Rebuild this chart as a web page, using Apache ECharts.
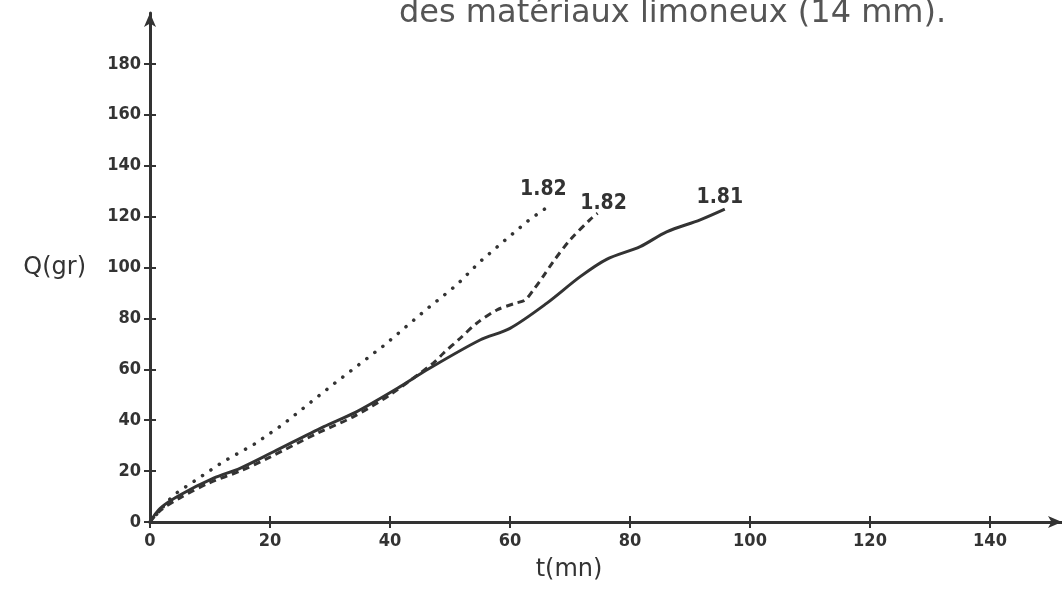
<!DOCTYPE html>
<html>
<head>
<meta charset="utf-8">
<script src="https://cdn.jsdelivr.net/npm/echarts@6/dist/echarts.min.js"></script>
<style>
html,body{margin:0;padding:0;background:#fff;}
#main{width:1062px;height:599px;}
</style>
</head>
<body>
<div id="main"></div>
<script>
// t (mn), Q (gr)
var solid181 = [[0,0],[1.7,5.4],[5,10.6],[10.6,17.2],[15,21.1],[20.6,27.6],[28.9,37.4],[34.4,43.3],[41.7,53.2],[46.1,59.7],[55,71.5],[60,76.1],[66.1,85.9],[71.7,96.4],[76.1,103.2],[81.7,108.2],[86.1,114],[91.7,118.7],[95.8,122.9]];
var dashed182 = [[0,0],[1.7,4.5],[5,9.5],[10,15.5],[15,20],[20,25.5],[28,35],[34,41.5],[40,50],[47.2,62.4],[48.9,66.3],[51.7,72.2],[54.4,78],[57.8,83.3],[60.8,85.9],[62.5,87.2],[63.9,91.2],[65.5,96.4],[67.2,102.3],[70,110.8],[73.3,118.7],[74.6,121.3]];
var dotted182 = [[0,0],[3.9,10.6],[7.2,15.8],[12.2,23.7],[17.2,30.3],[22.2,38.4],[26.7,46.9],[31.1,55.1],[38.9,69.2],[41.9,75.2],[46.1,83.6],[51.1,93.1],[55,102.3],[59.2,110.8],[63.3,118.9],[66.4,124]];
var xTicks = [0,20,40,60,80,100,120,140];
var yTicks = [0,20,40,60,80,100,120,140,160,180];
var curveLabels = ['1.81','1.82','1.82'];

var INK = '#333';
var NARROW = '"Liberation Sans Narrow","DejaVu Sans Condensed",sans-serif';

var chart = echarts.init(document.getElementById('main'));

function endMark(data, text, offset){
    var last = data[data.length-1];
    return {
        symbol:'circle',
        symbolSize:1,
        itemStyle:{color:'rgba(0,0,0,0)'},
        label:{show:true, position:'inside', formatter:text, offset:offset,
            color:INK, fontFamily:NARROW, fontWeight:'bold', fontSize:21},
        data:[{coord:last}]
    };
}

// second grid on the same rect only carries the inner half of the "+" ticks
var gridBox = {left:150, top:13, width:912, bottom:77, containLabel:false};

chart.setOption({
    animation:false,
    title:{
        text:'des matériaux limoneux (14 mm).',
        left:394, top:-7,
        textStyle:{color:'#555', fontFamily:'DejaVu Sans', fontWeight:'normal', fontSize:32}
    },
    grid:[gridBox, gridBox],
    xAxis:[{
        type:'value', gridIndex:0, min:0, max:152,
        name:'t(mn)', nameLocation:'middle', nameGap:36,
        nameTextStyle:{color:INK, fontFamily:'DejaVu Sans', fontSize:24, padding:[0,74,0,0]},
        axisLine:{show:true, symbol:['none','arrow'], symbolSize:[9,14], lineStyle:{color:INK, width:3}},
        axisTick:{show:true, customValues:xTicks, length:6, lineStyle:{color:INK, width:2}},
        axisLabel:{customValues:xTicks, margin:10, color:INK, fontFamily:NARROW, fontWeight:'bold', fontSize:18},
        splitLine:{show:false}
    },{
        type:'value', gridIndex:1, min:0, max:152,
        axisLine:{show:false},
        axisTick:{show:true, inside:true, customValues:xTicks, length:6, lineStyle:{color:INK, width:2}},
        axisLabel:{show:false},
        splitLine:{show:false}
    }],
    yAxis:[{
        type:'value', gridIndex:0, min:0, max:200,
        name:'Q(gr)', nameLocation:'middle', nameRotate:0, nameGap:64,
        nameTextStyle:{color:INK, fontFamily:'DejaVu Sans', fontSize:24, padding:[12,0,0,0]},
        axisLine:{show:true, symbol:['none','arrow'], symbolSize:[9,14], lineStyle:{color:INK, width:3}},
        axisTick:{show:true, customValues:yTicks, length:6, lineStyle:{color:INK, width:2}},
        axisLabel:{customValues:yTicks, margin:9, color:INK, fontFamily:NARROW, fontWeight:'bold', fontSize:18},
        splitLine:{show:false}
    },{
        type:'value', gridIndex:1, min:0, max:200,
        axisLine:{show:false},
        axisTick:{show:true, inside:true, customValues:yTicks, length:6, lineStyle:{color:INK, width:2}},
        axisLabel:{show:false},
        splitLine:{show:false}
    }],
    series:[{
        type:'line', name:curveLabels[0], data:solid181, smooth:0.3, symbol:'none',
        lineStyle:{color:INK, width:3},
        markPoint:endMark(solid181, curveLabels[0], [-5,-12])
    },{
        type:'line', name:curveLabels[1], data:dashed182, smooth:0.3, symbol:'none',
        lineStyle:{color:INK, width:3, type:[7,5]},
        markPoint:endMark(dashed182, curveLabels[1], [6,-10])
    },{
        type:'line', name:curveLabels[2], data:dotted182, symbol:'none',
        lineStyle:{color:INK, width:3.5, type:[0.1,10], cap:'round'},
        markPoint:endMark(dotted182, curveLabels[2], [-5,-17])
    }]
});
</script>
</body>
</html>
